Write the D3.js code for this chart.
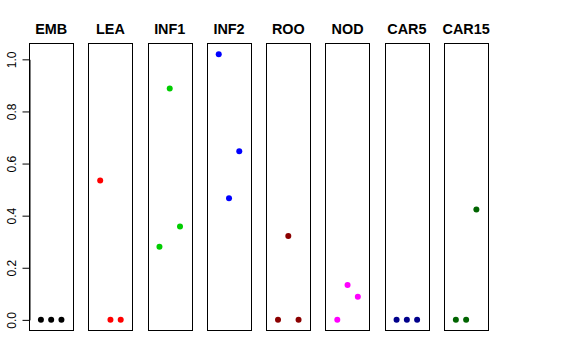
<!DOCTYPE html>
<html><head><meta charset="utf-8">
<script src="https://cdn.jsdelivr.net/npm/d3@7"></script>
<style>body{margin:0;background:#fff}svg{display:block}text{font-family:"Liberation Sans",Arial,Helvetica,sans-serif}</style>
</head><body>
<svg id="c" width="576" height="360"></svg>
<script>
const categories = ["EMB","LEA","INF1","INF2","ROO","NOD","CAR5","CAR15"];
const rep1 = [0, 0.535, 0.281, 1.020, 0, 0, 0, 0];
const rep2 = [0, 0, 0.888, 0.467, 0.322, 0.134, 0, 0];
const rep3 = [0, 0, 0.358, 0.647, 0, 0.089, 0, 0.424];
const colors = ["#000000","#FF0000","#00CD00","#0000FF","#8B0000","#FF00FF","#00008B","#006400"];
const yTicks = [0, 0.2, 0.4, 0.6, 0.8, 1.0];
const yTickLabels = ["0.0","0.2","0.4","0.6","0.8","1.0"];

const svg = d3.select("#c");
const plotTop = 43.5, plotBottom = 330.5;
const y = d3.scaleLinear().domain([-0.0408, 1.0608]).range([plotBottom, plotTop]);
const band = d3.scaleBand().domain(categories).range([29, 488.3]).paddingInner(0.252).paddingOuter(0);
const bw = band.bandwidth();
const xIn = d3.scaleLinear().domain([-0.16, 4.16]);

categories.forEach((cat, i) => {
  const left = band(cat);
  const g = svg.append("g");
  g.append("rect").attr("x", Math.round(left) + 0.5).attr("y", plotTop).attr("width", Math.round(bw)).attr("height", plotBottom - plotTop)
    .attr("fill", "none").attr("stroke", "#000").attr("stroke-width", 1);
  g.append("text").attr("x", left + bw / 2).attr("y", 34.3).attr("text-anchor", "middle")
    .attr("font-size", 14.4).attr("font-weight", "bold").text(cat);
  const xs = xIn.copy().range([left, left + bw]);
  const vals = [rep1[i], rep2[i], rep3[i]];
  g.selectAll("circle").data(vals).enter().append("circle")
    .attr("cx", (d, j) => xs(j + 1)).attr("cy", d => y(d)).attr("r", 3).attr("fill", colors[i]);
});

const yAxisScale = d3.scaleLinear().domain([0, 1]).range([y(0), y(1)]);
const ax = svg.append("g").attr("transform", "translate(29.5,0)")
  .call(d3.axisLeft(yAxisScale).tickValues(yTicks).tickFormat((d, i) => yTickLabels[i]).tickSizeOuter(0).tickSizeInner(7).tickPadding(0));
ax.select(".domain").attr("stroke", "#000");
ax.selectAll(".tick line").attr("stroke", "#000");
ax.selectAll(".tick text").attr("font-size", 12).attr("font-family", "Liberation Sans, Arial, sans-serif")
  .attr("fill", "#000")
  .attr("transform", "translate(-14,0) rotate(-90)").attr("x", 0).attr("y", 0).attr("dy", 0)
  .attr("text-anchor", "middle");
</script>
</body></html>
